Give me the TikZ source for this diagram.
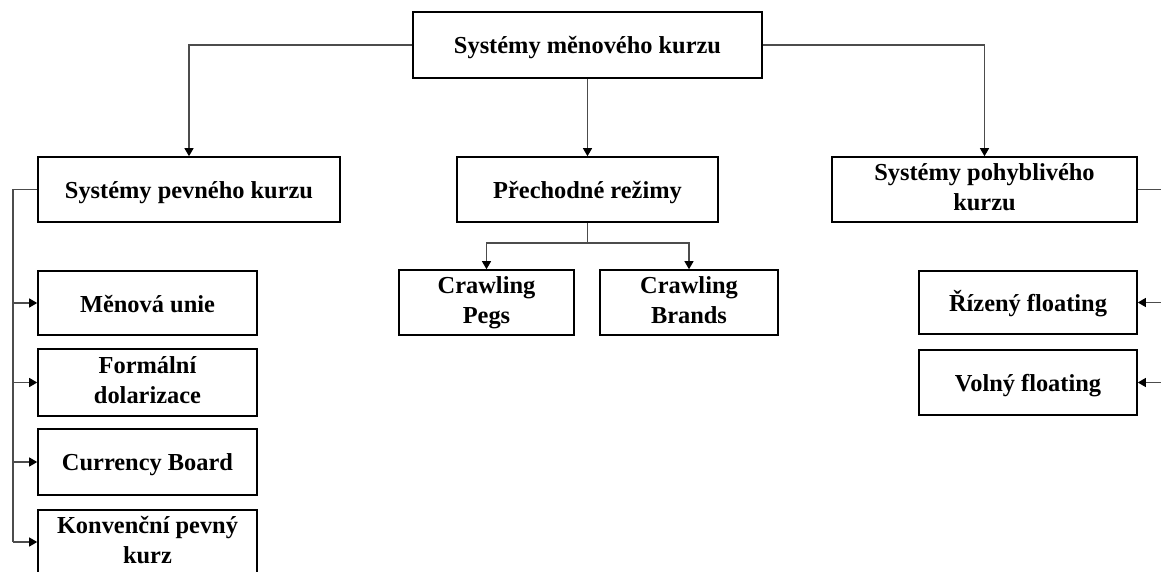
\documentclass[tikz,border=0pt]{standalone}
\usepackage{fontspec}
\setmainfont{Liberation Serif}
\usepackage{tikz}
\usetikzlibrary{arrows.meta}

\begin{document}
\begin{tikzpicture}[
    x=1pt, y=-1pt,
    box/.style={draw, line width=1.6pt, align=center, inner sep=0pt,
      font=\fontsize{24.4}{30}\selectfont\bfseries,
      execute at begin node={\rule{0pt}{23pt}},
      execute at end node={\rule[-5pt]{0pt}{5pt}}},
    link/.style={draw=black!70, line width=1.2pt},
    arr/.style={link, -{Triangle[length=8pt, width=9pt, color=black]}},
  ]
    \clip (0,0) rectangle (1161,572);

    % Levels
    \node[box, minimum width=349pt, minimum height=66pt] (top) at (587.5,45) {Systémy měnového kurzu};
    \node[box, minimum width=302pt, minimum height=65pt] (pevny) at (189,189.5) {Systémy pevného kurzu};
    \node[box, minimum width=261pt, minimum height=65pt] (prechod) at (587.5,189.5) {Přechodné režimy};
    \node[box, minimum width=305pt, minimum height=65pt] (pohyb) at (984.5,189.5) {Systémy pohyblivého\\kurzu};

    % Fixed regimes
    \node[box, minimum width=219pt, minimum height=64pt] (menova) at (147.5,303) {Měnová unie};
    \node[box, minimum width=219pt, minimum height=67pt] (dolar) at (147.5,382.5) {Formální\\dolarizace};
    \node[box, minimum width=219pt, minimum height=66pt] (board) at (147.5,462) {Currency Board};
    \node[box, minimum width=219pt, minimum height=64pt] (konv) at (147.5,542) {Konvenční pevný\\kurz};

    % Intermediate regimes
    \node[box, minimum width=175pt, minimum height=65pt] (pegs) at (486.5,302.5) {Crawling\\Pegs};
    \node[box, minimum width=178pt, minimum height=65pt] (brands) at (689,302.5) {Crawling\\Brands};

    % Floating regimes
    \node[box, minimum width=218pt, minimum height=63pt] (rizeny) at (1028,302.5) {Řízený floating};
    \node[box, minimum width=218pt, minimum height=65pt] (volny) at (1028,382.5) {Volný floating};

    % Connectors
    \coordinate (lbus) at (13,0);
    \coordinate (rbus) at (1164,0);
    \coordinate (mbus) at (587.5,243);

    \draw[arr] (top.west) -| (pevny.north);
    \draw[arr] (top.south) -- (prechod.north);
    \draw[arr] (top.east) -| (pohyb.north);

    \draw[link] (pevny.west) -| (lbus |- konv.west);
    \foreach \n in {menova, dolar, board, konv} {
      \draw[arr] (lbus |- \n.west) -- (\n.west);
    }

    \draw[link] (prechod.south) -- (mbus);
    \draw[arr] (mbus) -| (pegs.north);
    \draw[arr] (mbus) -| (brands.north);

    \draw[link] (pohyb.east) -| (rbus |- volny.east);
    \foreach \n in {rizeny, volny} {
      \draw[arr] (rbus |- \n.east) -- (\n.east);
    }
  \end{tikzpicture}
\end{document}
